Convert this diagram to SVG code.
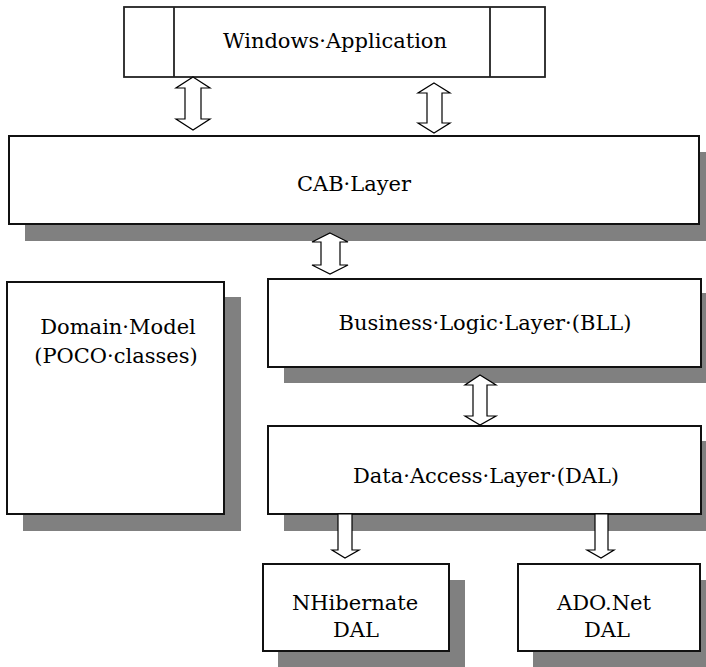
<svg xmlns="http://www.w3.org/2000/svg" width="706" height="667" viewBox="0 0 706 667">
<style>
.box{fill:#fff;stroke:#111;stroke-width:2}
.shadow{fill:#808080}
.lbl{font-family:"DejaVu Serif",serif;font-size:21px;fill:#000;text-anchor:middle}
.arr{fill:#fff;stroke:#000;stroke-width:1.2;stroke-linejoin:miter}
</style>
<rect width="706" height="667" fill="#fff"/>
<g id="shadows">
<rect class="shadow" x="25" y="152" width="690" height="89"/>
<rect class="shadow" x="23" y="297" width="218" height="234"/>
<rect class="shadow" x="284" y="293" width="433" height="90"/>
<rect class="shadow" x="284" y="441" width="433" height="90"/>
<rect class="shadow" x="278" y="580" width="187" height="90"/>
<rect class="shadow" x="533" y="580" width="183" height="90"/>
</g>
<g id="windows-application">
<rect class="box" x="124" y="7" width="421" height="70" style="stroke:#222;stroke-width:1.8"/>
<line x1="174" y1="7" x2="174" y2="77" stroke="#222" stroke-width="1.8"/>
<line x1="490" y1="7" x2="490" y2="77" stroke="#222" stroke-width="1.8"/>
<text class="lbl" x="335" y="48">Windows·Application</text>
</g>
<g id="cab-layer">
<rect class="box" x="9" y="136" width="690" height="88"/>
<text class="lbl" x="354" y="191">CAB·Layer</text>
</g>
<g id="domain-model">
<rect class="box" x="7" y="282" width="217" height="232"/>
<text class="lbl" x="118" y="334">Domain·Model</text>
<text class="lbl" x="116" y="363">(POCO·classes)</text>
</g>
<g id="bll">
<rect class="box" x="268" y="279" width="433" height="88"/>
<text class="lbl" x="485" y="330">Business·Logic·Layer·(BLL)</text>
</g>
<g id="dal">
<rect class="box" x="268" y="426" width="433" height="88"/>
<text class="lbl" x="486" y="483">Data·Access·Layer·(DAL)</text>
</g>
<g id="nhibernate-dal">
<rect class="box" x="263" y="564" width="186" height="87"/>
<text class="lbl" x="355" y="610">NHibernate</text>
<text class="lbl" x="356" y="637">DAL</text>
</g>
<g id="adonet-dal">
<rect class="box" x="518" y="564" width="182" height="87"/>
<text class="lbl" x="604" y="610">ADO.Net</text>
<text class="lbl" x="607" y="637">DAL</text>
</g>
<g id="connectors">
<polygon class="arr" points="193,77 210,88 201,88 201,119 210,119 193,130 176,119 185,119 185,88 176,88"/>
<polygon class="arr" points="434,83 450,93 442,93 442,123 450,123 434,133 418,123 427,123 427,93 418,93"/>
<polygon class="arr" points="330,233 348,242 340,242 340,265 348,265 330,274 312,265 321,265 321,242 312,242"/>
<polygon class="arr" points="480,375 496,385 487,385 487,416 496,416 480,425 465,416 473,416 473,385 465,385"/>
<polygon class="arr" points="338,514 352,514 352,550 359,550 345,558 332,550 338,550"/>
<polygon class="arr" points="595,514 608,514 608,550 614,550 601,558 587,550 595,550"/>
</g>
</svg>
